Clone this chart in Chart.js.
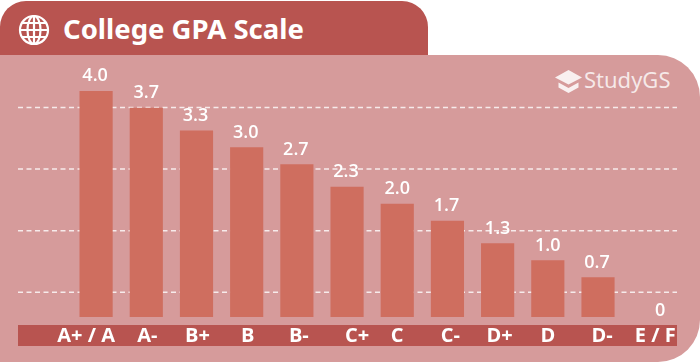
<!DOCTYPE html>
<html>
<head>
<meta charset="utf-8">
<title>College GPA Scale</title>
<script src="https://cdn.jsdelivr.net/npm/chart.js@4"></script>
<style>
  html, body { margin: 0; padding: 0; background: #fff; }
  #wrap { position: relative; width: 700px; height: 364px; overflow: hidden; }
  #panel { position: absolute; left: 0; top: 55px; width: 700px; height: 307px; background: #d69b9b; border-radius: 0 42px 42px 0; }
  #head { position: absolute; left: 0; top: 1px; width: 428px; height: 54px; background: #b85450; border-radius: 26px 26px 0 0; }
  #title { position: absolute; left: 63px; top: 9px; color: #fff; font: 700 27.5px "Noto Sans", sans-serif; white-space: nowrap; }
  #globe { position: absolute; left: 18px; top: 13px; }
  #band { position: absolute; left: 18px; top: 325px; width: 659px; height: 21px; background: #b85450; }
  #brand { position: absolute; left: 584px; top: 64px; color: rgba(255,255,255,.78); font: 400 22px "Noto Sans", sans-serif; white-space: nowrap; }
  #cap { position: absolute; left: 555px; top: 70px; }
  #chart { position: absolute; left: 0; top: 0; }
</style>
</head>
<body>
<div id="wrap">
  <div id="panel"></div>
  <div id="head">
    <svg id="globe" width="32" height="32" viewBox="0 0 32 32" fill="none" stroke="#fff" stroke-width="2.2">
      <circle cx="16" cy="16" r="14"/>
      <ellipse cx="16" cy="16" rx="6.5" ry="14"/>
      <path d="M16 2V30M2 16H30M4 9H28M4 23H28"/>
    </svg>
    <div id="title">College GPA Scale</div>
  </div>
  <div id="band"></div>
  <svg id="cap" width="27" height="24" viewBox="0 0 27 24">
    <path d="M13.5 0L27 7.5L13.5 14.5L0 7.5Z" fill="rgba(255,255,255,.85)"/>
    <path d="M3.5 12.5L13.5 18L23.5 12.5V17.5L13.5 23L3.5 17.5Z" fill="rgba(255,255,255,.85)"/>
  </svg>
  <div id="brand">StudyGS</div>
  <canvas id="chart" width="700" height="364"></canvas>
</div>
<script>
var grades = ['A+ / A','A-','B+','B','B-','C+','C','C-','D+','D','D-','E / F'];
var gpa = [4.0,3.7,3.3,3.0,2.7,2.3,2.0,1.7,1.3,1.0,0.7,0];
var gpaText = ['4.0','3.7','3.3','3.0','2.7','2.3','2.0','1.7','1.3','1.0','0.7','0'];
var gridValues = [0.44,1.53,2.62,3.71];

// the labels in the picture don't sit quite on the bar centres
var gradeNudge = [-10,1,1,1,2,10,0,3,2,0,4,7];
var valueNudge = [-1,0,-1,-1,-1,-1,0,-1,0,0,-1,12];

var gpaPlugin = {
  id: 'gpaPlugin',
  beforeDatasetsDraw: function (chart) {
    var ctx = chart.ctx;
    var y = chart.scales.y;
    ctx.save();
    ctx.strokeStyle = 'rgba(255,255,255,.8)';
    ctx.lineWidth = 1.5;
    ctx.setLineDash([5, 3.5]);
    gridValues.forEach(function (v) {
      var py = y.getPixelForValue(v);
      ctx.beginPath();
      ctx.moveTo(18, py);
      ctx.lineTo(677, py);
      ctx.stroke();
    });
    ctx.restore();
  },
  afterDatasetsDraw: function (chart) {
    var ctx = chart.ctx;
    var x = chart.scales.x;
    var bars = chart.getDatasetMeta(0).data;
    ctx.save();
    ctx.fillStyle = '#fff';
    ctx.textAlign = 'center';
    ctx.textBaseline = 'middle';
    ctx.font = '600 18px "Open Sans", sans-serif';
    bars.forEach(function (bar, i) {
      var above = gpa[i] === 0 ? 6 : 15;
      ctx.fillText(gpaText[i], bar.x + valueNudge[i], bar.y - above);
    });
    ctx.font = '700 20px "Open Sans", sans-serif';
    grades.forEach(function (g, i) {
      ctx.fillText(g, x.getPixelForValue(i) + gradeNudge[i], 336);
    });
    ctx.restore();
  }
};

var gpaChart = new Chart(document.getElementById('chart'), {
  type: 'bar',
  data: {
    labels: grades,
    datasets: [{
      data: gpa,
      backgroundColor: function (c) { return gpa[c.dataIndex] === 0 ? 'transparent' : '#cf6e5f'; },
      barThickness: 32.5
    }]
  },
  options: {
    responsive: false,
    animation: false,
    layout: { padding: { left: 71, right: 26.7, top: 63, bottom: 47 } },
    plugins: { legend: { display: false }, tooltip: { enabled: false } },
    scales: {
      x: { display: false },
      y: { display: false, min: 0, max: 4.5 }
    }
  },
  plugins: [gpaPlugin]
});
</script>
</body>
</html>
